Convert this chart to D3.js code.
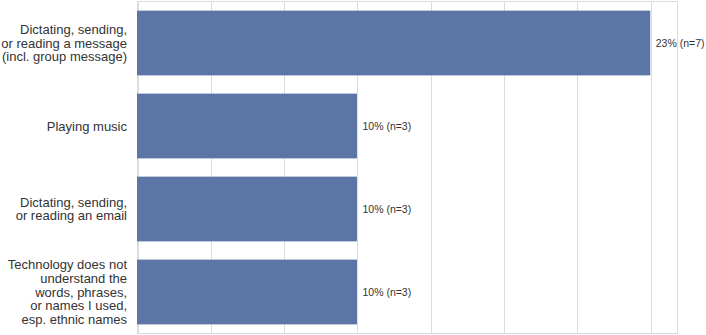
<!DOCTYPE html>
<html>
<head>
    <meta charset="utf-8">
    <title>Problems by task</title>
    <script src="https://d3js.org/d3.v7.min.js"></script>
    <style type="text/css">
        body { margin: 0; background: #fff; }
        text { font-family: "Liberation Sans", Arial, sans-serif; fill: #333; }
    </style>
</head>
<body>
    <script type="text/javascript">
        // data
        let categories = [
            ["Dictating, sending,", "or reading a message", "(incl. group message)"],
            ["Playing music"],
            ["Dictating, sending,", "or reading an email"],
            ["Technology does not", "understand the", "words, phrases,", "or names I used,", "esp. ethnic names"]
        ];
        let counts = [7, 3, 3, 3];
        let total = 30;
        let percents = counts.map(c => c / total * 100);
        let valueLabels = ["23% (n=7)", "10% (n=3)", "10% (n=3)", "10% (n=3)"];
        let gridTicks = [0, 1, 2, 3, 4, 5, 6, 7].map(c => c / total * 100);

        let width = 706, height = 335;
        let plotLeft = 137.5, plotRight = 677.5, plotTop = 1.5, plotBottom = 333.5;

        let svg = d3.select("body").append("svg")
            .attr("width", width)
            .attr("height", height);

        let x = d3.scaleLinear()
            .domain([0, 24.55])
            .range([plotLeft, plotRight]);

        let y = d3.scaleBand()
            .domain(d3.range(categories.length))
            .range([plotTop, plotBottom])
            .paddingInner(0.22)
            .paddingOuter(0.11);

        // grid lines
        svg.append("g")
            .selectAll("line")
            .data(gridTicks)
            .join("line")
                .attr("x1", d => Math.round(x(d)) + 0.5)
                .attr("x2", d => Math.round(x(d)) + 0.5)
                .attr("y1", plotTop)
                .attr("y2", plotBottom)
                .style("stroke", "#dcdcdc")
                .style("stroke-width", 1);

        //box around plot
        svg.append("rect")
            .attr("x", plotLeft)
            .attr("y", plotTop)
            .attr("width", plotRight - plotLeft)
            .attr("height", plotBottom - plotTop)
            .style("fill", "none")
            .style("stroke", "#dcdcdc")
            .style("stroke-width", 1);

        // bars
        svg.append("g")
            .selectAll("rect")
            .data(percents)
            .join("rect")
                .attr("x", x(0) - 0.5)
                .attr("y", (d, i) => y(i))
                .attr("width", d => x(d) - x(0))
                .attr("height", y.bandwidth())
                .style("fill", "#5a75a6");

        // value labels
        svg.append("g")
            .selectAll("text")
            .data(percents)
            .join("text")
                .attr("x", d => x(d) + 5)
                .attr("y", (d, i) => y(i) + y.bandwidth() / 2)
                .attr("dy", "0.35em")
                .style("font-size", "10.5px")
                .text((d, i) => valueLabels[i]);

        // category labels
        let lineH = 13.6;
        let labels = svg.append("g")
            .selectAll("text")
            .data(categories)
            .join("text")
                .attr("text-anchor", "end")
                .style("font-size", "13px")
                .attr("y", (d, i) => y(i) + y.bandwidth() / 2 - (d.length - 1) * lineH / 2);

        labels.selectAll("tspan")
            .data(d => d)
            .join("tspan")
                .attr("x", 127)
                .attr("dy", (d, j) => j == 0 ? "0.35em" : lineH)
                .text(d => d);
    </script>
</body>
</html>
